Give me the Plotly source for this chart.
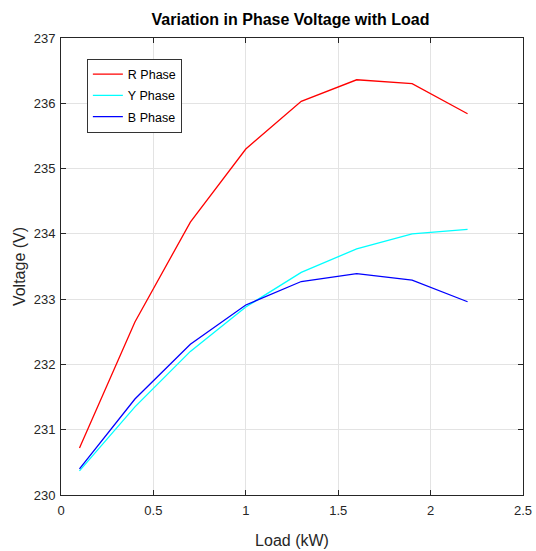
import plotly.graph_objects as go

# Load steps (kW) and measured phase voltages (V)
load_kw = [0.1, 0.4, 0.7, 1.0, 1.3, 1.6, 1.9, 2.2]
r_phase = [230.72, 232.65, 234.18, 235.30, 236.03, 236.36, 236.30, 235.84]
y_phase = [230.37, 231.35, 232.20, 232.88, 233.41, 233.77, 234.00, 234.07]
b_phase = [230.40, 231.47, 232.31, 232.91, 233.27, 233.39, 233.29, 232.96]

x_ticks = [0, 0.5, 1, 1.5, 2, 2.5]
x_tick_text = ["0", "0.5", "1", "1.5", "2", "2.5"]
y_ticks = [230, 231, 232, 233, 234, 235, 236, 237]

FONT = "Liberation Sans, Arial, Helvetica, sans-serif"
AXIS_COLOR = "#262626"
GRID_COLOR = "#e3e3e3"

fig = go.Figure()
for name, vals, color in [
    ("R Phase", r_phase, "#ff0000"),
    ("Y Phase", y_phase, "#00ffff"),
    ("B Phase", b_phase, "#0000ff"),
]:
    fig.add_trace(go.Scatter(
        x=load_kw, y=vals, mode="lines", name=name, legendgroup=name,
        line=dict(color=color, width=1.3),
    ))

axis_common = dict(
    showline=True, linecolor=AXIS_COLOR, linewidth=1, mirror="ticks",
    ticks="inside", ticklen=5, tickwidth=1, tickcolor=AXIS_COLOR,
    showgrid=True, gridcolor=GRID_COLOR, gridwidth=1,
    zeroline=False, automargin=True,
    tickfont=dict(family=FONT, size=13, color=AXIS_COLOR),
)

fig.update_layout(
    width=536, height=551,
    margin=dict(l=61, r=13, t=38, b=56, autoexpand=False),
    paper_bgcolor="white", plot_bgcolor="white",
    title=dict(
        text="<b>Variation in Phase Voltage with Load</b>",
        x=0.542, xanchor="center", y=0.964, yanchor="middle",
        font=dict(family=FONT, size=16, color="#000000"),
    ),
    xaxis=dict(
        range=[0, 2.5], tickvals=x_ticks, ticktext=x_tick_text,
        ticklabelstandoff=3,
        title=dict(text="Load (kW)", font=dict(family=FONT, size=16, color=AXIS_COLOR), standoff=18),
        **axis_common,
    ),
    yaxis=dict(
        range=[230, 237], tickvals=y_ticks,
        ticklabelstandoff=2,
        title=dict(text="Voltage (V)", font=dict(family=FONT, size=16, color=AXIS_COLOR), standoff=4),
        **axis_common,
    ),
    legend=dict(
        x=0.056, y=0.955, xanchor="left", yanchor="top",
        bgcolor="white", bordercolor="#333333", borderwidth=1,
        font=dict(family=FONT, size=12.5, color="#000000"),
        itemwidth=30, tracegroupgap=2,
    ),
    showlegend=True,
)

fig.write_html("out.html")
